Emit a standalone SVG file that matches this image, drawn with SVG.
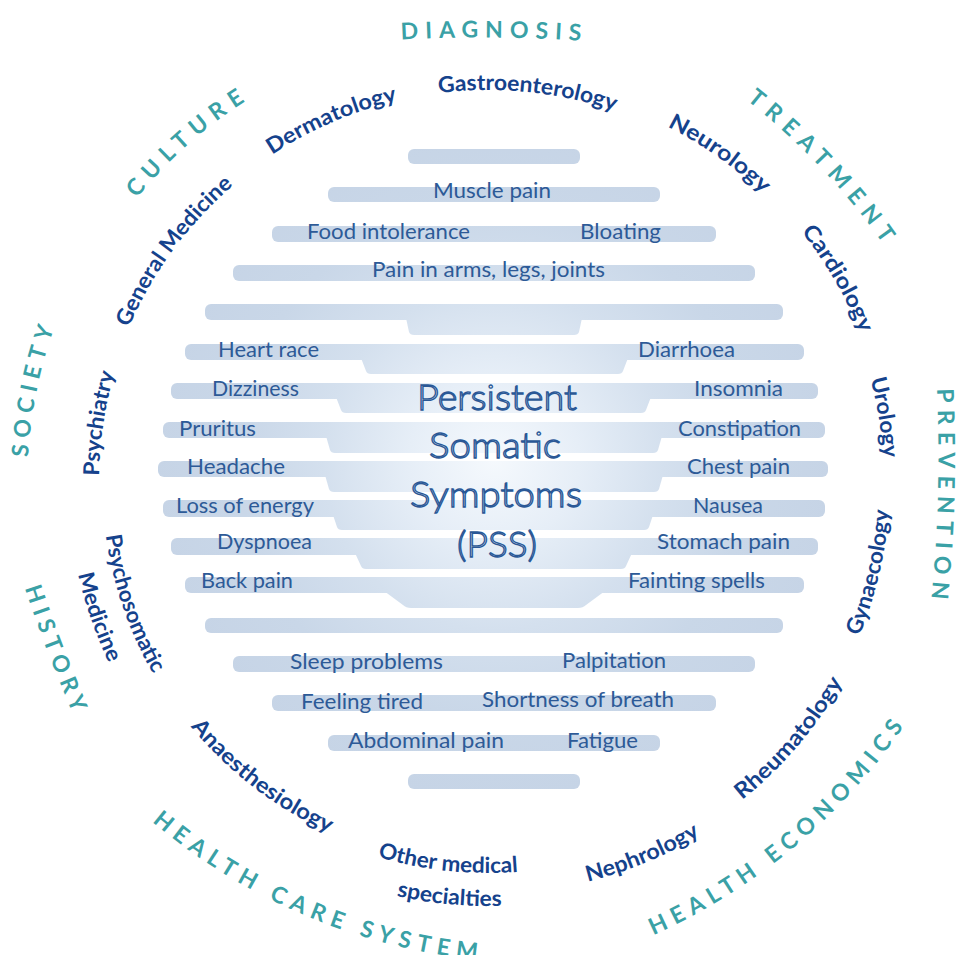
<svg xmlns="http://www.w3.org/2000/svg" width="962" height="955" viewBox="0 0 962 955">
<style>
.bar{fill:url(#bodyGrad)}
.sym{font-family:Lato,"Liberation Sans",sans-serif;font-size:22px;fill:#2d5a97}
.title{font-family:Lato,"Liberation Sans",sans-serif;font-size:36px;font-weight:300;fill:#f0f5fb;stroke:#2a5896;stroke-width:1.3px}
.spec{font-family:Lato,"Liberation Sans",sans-serif;font-size:22px;font-weight:700;fill:#15428c}
.cat{font-family:Lato,"Liberation Sans",sans-serif;font-size:23px;font-weight:700;fill:#3aa1a6}
</style>
<defs>
<radialGradient id="bodyGrad" gradientUnits="userSpaceOnUse" cx="494" cy="460" r="340">
<stop offset="0" stop-color="#f5f9fd"/>
<stop offset="0.25" stop-color="#e6eef7"/>
<stop offset="0.5" stop-color="#d4e0ee"/>
<stop offset="0.75" stop-color="#c9d7e8"/>
<stop offset="1" stop-color="#c6d4e6"/>
</radialGradient>
<!-- outer category arcs -->
<path id="a-diag" d="M282.2,50.7 A1500,1500 0 0 1 699.7,53.6"/>
<path id="a-treat" d="M646.1,33.7 A700,700 0 0 1 943.9,347.5"/>
<path id="a-prev" d="M928.8,284.7 A1500,1500 0 0 1 917.8,702.1"/>
<path id="a-soc" d="M32.8,551.7 A460.5,460.5 0 0 1 94.5,242.8"/>
<path id="a-cult" d="M90.1,268.6 A451.5,451.5 0 0 1 320.3,62.8"/>
<path id="a-heco" d="M592.3,958.4 A600,600 0 0 0 937.7,670.7"/>
<path id="a-hcs" d="M114.3,787.1 A600,600 0 0 0 528.1,962.7"/>
<path id="a-hist" d="M-1.2,501.8 A1500,1500 0 0 0 111.2,794.6"/>
<!-- specialty arcs -->
<path id="s-gastro" d="M267.7,157.8 A392,392 0 0 1 769.0,208.7"/>
<path id="s-derm" d="M137.5,306.5 A392,392 0 0 1 600.0,106.3"/>
<path id="s-gen" d="M97.8,507.2 A391,391 0 0 1 395.4,102.1"/>
<path id="s-neuro" d="M454.7,85.4 A398,398 0 0 1 872.8,380.3"/>
<path id="s-card" d="M623.8,104.7 A401,401 0 0 1 883.1,550.3"/>
<path id="s-uro" d="M746.2,181.8 A396,396 0 0 1 828.5,684.2"/>
<path id="s-psych" d="M155.9,684.7 A389,389 0 0 1 230.8,190.2"/>
<path id="s-gyn" d="M728.2,804.3 A402,402 0 0 0 847.1,301.4"/>
<path id="s-rheu" d="M555.9,883.3 A407,407 0 0 0 895.0,484.8"/>
<path id="s-neph" d="M364.1,874.9 A412,412 0 0 0 853.4,672.2"/>
<path id="s-other1" d="M206.8,753.6 A391,391 0 0 0 706.6,806.1"/>
<path id="s-other2" d="M186.6,780.2 A424,424 0 0 0 729.4,830.6"/>
<path id="s-anaes" d="M112.1,565.3 A385,385 0 0 0 504.8,866.6"/>
<path id="s-psm1" d="M127.9,343.0 A386,386 0 0 0 288.6,812.5"/>
<path id="s-psm2" d="M95.6,332.2 A420,420 0 0 0 272.3,842.4"/>
</defs>

<g id="body">
<rect class="bar" x="408" y="149" width="172" height="15" rx="6"/>
<rect class="bar" x="328" y="187" width="332" height="15" rx="6"/>
<rect class="bar" x="272" y="226" width="444" height="16" rx="6"/>
<rect class="bar" x="233" y="265" width="522" height="16" rx="6"/>
<rect class="bar" x="205" y="304" width="578" height="16" rx="6"/>
<path class="bar" d="M406,318 L582,318 L579,332 Q578,335 574,335 L414,335 Q410,335 409,332 Z"/>
<rect class="bar" x="185" y="344" width="619" height="16" rx="6"/>
<path class="bar" d="M361,358 L628,358 L623,371 Q622,374 618,374 L371,374 Q367,374 366,371 Z"/>
<rect class="bar" x="171" y="383" width="647" height="16" rx="6"/>
<path class="bar" d="M336,397 L651,397 L646,410 Q645,413 641,413 L346,413 Q342,413 341,410 Z"/>
<rect class="bar" x="163" y="422" width="662" height="16" rx="6"/>
<path class="bar" d="M326,436 L662,436 L658,450 Q657,453 653,453 L335,453 Q331,453 330,450 Z"/>
<rect class="bar" x="158" y="461" width="670" height="16" rx="6"/>
<path class="bar" d="M325,475 L663,475 L659,489 Q658,492 654,492 L334,492 Q330,492 329,489 Z"/>
<rect class="bar" x="163" y="500" width="662" height="17" rx="6"/>
<path class="bar" d="M333,515 L653,515 L649,527 Q648,530 644,530 L342,530 Q338,530 337,527 Z"/>
<rect class="bar" x="171" y="538" width="647" height="17" rx="6"/>
<path class="bar" d="M355,553 L632,553 L626,566 Q625,569 621,569 L366,569 Q362,569 361,566 Z"/>
<rect class="bar" x="185" y="577" width="619" height="16" rx="6"/>
<path class="bar" d="M384,591 L605,591 L586,605 Q583,608 578,608 L411,608 Q406,608 403,605 Z"/>
<rect class="bar" x="205" y="618" width="578" height="15" rx="6"/>
<rect class="bar" x="233" y="656" width="522" height="16" rx="6"/>
<rect class="bar" x="272" y="695" width="444" height="16" rx="6"/>
<rect class="bar" x="328" y="735" width="332" height="16" rx="6"/>
<rect class="bar" x="408" y="774" width="172" height="15" rx="6"/>
</g>

<g id="title">
<text class="title" x="417" y="410" textLength="160" lengthAdjust="spacingAndGlyphs">Persistent</text>
<text class="title" x="429" y="458" textLength="132" lengthAdjust="spacingAndGlyphs">Somatic</text>
<text class="title" x="410" y="507" textLength="172" lengthAdjust="spacingAndGlyphs">Symptoms</text>
<text class="title" x="457" y="557" textLength="80" lengthAdjust="spacingAndGlyphs">(PSS)</text>
</g>

<g id="symptoms">
<text class="sym" x="433" y="198" textLength="118" lengthAdjust="spacingAndGlyphs">Muscle pain</text>
<text class="sym" x="307" y="239" textLength="163" lengthAdjust="spacingAndGlyphs">Food intolerance</text>
<text class="sym" x="580" y="239" textLength="81" lengthAdjust="spacingAndGlyphs">Bloating</text>
<text class="sym" x="372" y="277" textLength="233" lengthAdjust="spacingAndGlyphs">Pain in arms, legs, joints</text>
<text class="sym" x="218" y="357" textLength="101" lengthAdjust="spacingAndGlyphs">Heart race</text>
<text class="sym" x="638" y="357" textLength="97" lengthAdjust="spacingAndGlyphs">Diarrhoea</text>
<text class="sym" x="212" y="396" textLength="87" lengthAdjust="spacingAndGlyphs">Dizziness</text>
<text class="sym" x="694" y="396" textLength="89" lengthAdjust="spacingAndGlyphs">Insomnia</text>
<text class="sym" x="179" y="436" textLength="77" lengthAdjust="spacingAndGlyphs">Pruritus</text>
<text class="sym" x="678" y="436" textLength="123" lengthAdjust="spacingAndGlyphs">Constipation</text>
<text class="sym" x="187" y="474" textLength="98" lengthAdjust="spacingAndGlyphs">Headache</text>
<text class="sym" x="687" y="474" textLength="103" lengthAdjust="spacingAndGlyphs">Chest pain</text>
<text class="sym" x="176" y="513" textLength="138" lengthAdjust="spacingAndGlyphs">Loss of energy</text>
<text class="sym" x="693" y="513" textLength="70" lengthAdjust="spacingAndGlyphs">Nausea</text>
<text class="sym" x="217" y="549" textLength="95" lengthAdjust="spacingAndGlyphs">Dyspnoea</text>
<text class="sym" x="657" y="549" textLength="133" lengthAdjust="spacingAndGlyphs">Stomach pain</text>
<text class="sym" x="201" y="588" textLength="92" lengthAdjust="spacingAndGlyphs">Back pain</text>
<text class="sym" x="628" y="588" textLength="137" lengthAdjust="spacingAndGlyphs">Fainting spells</text>
<text class="sym" x="290" y="669" textLength="153" lengthAdjust="spacingAndGlyphs">Sleep problems</text>
<text class="sym" x="562" y="668" textLength="104" lengthAdjust="spacingAndGlyphs">Palpitation</text>
<text class="sym" x="301" y="709" textLength="122" lengthAdjust="spacingAndGlyphs">Feeling tired</text>
<text class="sym" x="482" y="707" textLength="192" lengthAdjust="spacingAndGlyphs">Shortness of breath</text>
<text class="sym" x="348" y="748" textLength="156" lengthAdjust="spacingAndGlyphs">Abdominal pain</text>
<text class="sym" x="567" y="748" textLength="71" lengthAdjust="spacingAndGlyphs">Fatigue</text>
</g>

<g id="specialties">
<text class="spec"><textPath href="#s-gastro" startOffset="50%" text-anchor="middle" textLength="178" lengthAdjust="spacingAndGlyphs">Gastroenterology</textPath></text>
<text class="spec"><textPath href="#s-derm" startOffset="50%" text-anchor="middle" textLength="137" lengthAdjust="spacingAndGlyphs">Dermatology</textPath></text>
<text class="spec"><textPath href="#s-gen" startOffset="50%" text-anchor="middle" textLength="178" lengthAdjust="spacingAndGlyphs">General Medicine</textPath></text>
<text class="spec"><textPath href="#s-neuro" startOffset="50%" text-anchor="middle" textLength="117" lengthAdjust="spacingAndGlyphs">Neurology</textPath></text>
<text class="spec"><textPath href="#s-card" startOffset="50%" text-anchor="middle" textLength="118" lengthAdjust="spacingAndGlyphs">Cardiology</textPath></text>
<text class="spec"><textPath href="#s-uro" startOffset="50%" text-anchor="middle" textLength="80" lengthAdjust="spacingAndGlyphs">Urology</textPath></text>
<text class="spec"><textPath href="#s-psych" startOffset="50%" text-anchor="middle" textLength="104" lengthAdjust="spacingAndGlyphs">Psychiatry</textPath></text>
<text class="spec"><textPath href="#s-gyn" startOffset="50%" text-anchor="middle" textLength="130" lengthAdjust="spacingAndGlyphs">Gynaecology</textPath></text>
<text class="spec"><textPath href="#s-rheu" startOffset="50%" text-anchor="middle" textLength="156" lengthAdjust="spacingAndGlyphs">Rheumatology</textPath></text>
<text class="spec"><textPath href="#s-neph" startOffset="50%" text-anchor="middle" textLength="122" lengthAdjust="spacingAndGlyphs">Nephrology</textPath></text>
<text class="spec"><textPath href="#s-other1" startOffset="50%" text-anchor="middle" textLength="142" lengthAdjust="spacingAndGlyphs">Other medical</textPath></text>
<text class="spec"><textPath href="#s-other2" startOffset="50%" text-anchor="middle" textLength="106" lengthAdjust="spacingAndGlyphs">specialties</textPath></text>
<text class="spec"><textPath href="#s-anaes" startOffset="50%" text-anchor="middle" textLength="176" lengthAdjust="spacingAndGlyphs">Anaesthesiology</textPath></text>
<text class="spec"><textPath href="#s-psm1" startOffset="50%" text-anchor="middle" textLength="147" lengthAdjust="spacingAndGlyphs">Psychosomatic</textPath></text>
<text class="spec"><textPath href="#s-psm2" startOffset="50%" text-anchor="middle" textLength="94" lengthAdjust="spacingAndGlyphs">Medicine</textPath></text>
</g>

<g id="categories">
<text class="cat"><textPath href="#a-diag" startOffset="50%" text-anchor="middle" textLength="180" lengthAdjust="spacing">DIAGNOSIS</textPath></text>
<text class="cat"><textPath href="#a-treat" startOffset="50%" text-anchor="middle" textLength="199" lengthAdjust="spacing">TREATMENT</textPath></text>
<text class="cat"><textPath href="#a-prev" startOffset="50%" text-anchor="middle" textLength="210" lengthAdjust="spacing">PREVENTION</textPath></text>
<text class="cat"><textPath href="#a-heco" startOffset="50%" text-anchor="middle" textLength="330" lengthAdjust="spacing">HEALTH ECONOMICS</textPath></text>
<text class="cat"><textPath href="#a-hcs" startOffset="50%" text-anchor="middle" textLength="358" lengthAdjust="spacing">HEALTH CARE SYSTEM</textPath></text>
<text class="cat"><textPath href="#a-hist" startOffset="50%" text-anchor="middle" textLength="134" lengthAdjust="spacing">HISTORY</textPath></text>
<text class="cat"><textPath href="#a-soc" startOffset="50%" text-anchor="middle" textLength="132" lengthAdjust="spacing">SOCIETY</textPath></text>
<text class="cat"><textPath href="#a-cult" startOffset="50%" text-anchor="middle" textLength="146" lengthAdjust="spacing">CULTURE</textPath></text>
</g>
</svg>
